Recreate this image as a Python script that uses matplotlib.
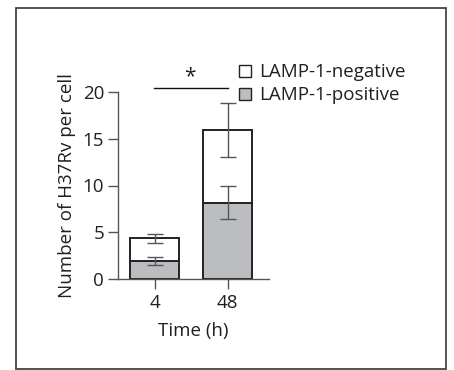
import matplotlib
matplotlib.use("Agg")
import matplotlib.pyplot as plt
from matplotlib.patches import Rectangle

plt.rcParams['font.family'] = ['Open Sans', 'DejaVu Sans']

# data
times = ["4", "48"]
pos_mean = [1.9, 8.15]
pos_err = [0.4, 1.75]
total_mean = [4.35, 15.95]
total_err = [0.45, 2.85]
neg_mean = [t - p for t, p in zip(total_mean, pos_mean)]

TXT = "#231f20"
AX = "#555555"
GREY = "#bcbdc0"
FS = 13.5

fig = plt.figure(figsize=(4.54, 3.70), dpi=100)
# outer frame
fig.patches.append(Rectangle((15.5/454, 1/370), (446-15.5)/454, (362.5-1)/370,
                             transform=fig.transFigure, fill=False,
                             edgecolor="#444444", lw=1.3))

ax = fig.add_axes([118/454, 1-279/370, (269-118)/454, (279-92)/370])
x = [0, 1]
w = 0.67
ax.bar(x, pos_mean, w, color=GREY, edgecolor="#222222", lw=1.4, zorder=2)
ax.bar(x, neg_mean, w, bottom=pos_mean, color="white", edgecolor="#222222", lw=1.4, zorder=2)
ax.errorbar(x, pos_mean, yerr=pos_err, fmt="none", ecolor=AX, elinewidth=1.0,
            capsize=6, capthick=1.0, zorder=3)
ax.errorbar(x, total_mean, yerr=total_err, fmt="none", ecolor=AX, elinewidth=1.0,
            capsize=6, capthick=1.0, zorder=3, clip_on=False)

ax.set_xlim(-0.5, 1.568)
ax.set_ylim(0, 20)
ax.set_yticks([0, 5, 10, 15, 20])
ax.set_xticks(x)
ax.set_xticklabels(times)
for s in ["top", "right"]:
    ax.spines[s].set_visible(False)
for s in ["left", "bottom"]:
    ax.spines[s].set_color(AX)
    ax.spines[s].set_linewidth(1.0)
ax.tick_params(axis="both", colors=AX, labelcolor=TXT, labelsize=FS,
               length=7, width=1.0)
ax.tick_params(axis="x", pad=4)
ax.tick_params(axis="y", pad=3)
ax.set_ylabel("Number of H37Rv per cell", fontsize=FS, color=TXT, labelpad=5)
ax.set_xlabel("Time (h)", fontsize=FS, color=TXT, labelpad=7)

# significance
ax.plot([-0.005, 1.0], [20.4, 20.4], color="#111111", lw=1.0, clip_on=False)
ax.text(0.49, 21.6, "*", ha="center", va="center", fontsize=15, color=TXT)

# legend
ax.add_patch(Rectangle((1.16, 21.6), 0.16, 1.3, transform=ax.transData,
                       facecolor="white", edgecolor="#222222", lw=1.0, clip_on=False))
ax.add_patch(Rectangle((1.16, 19.15), 0.16, 1.3, transform=ax.transData,
                       facecolor=GREY, edgecolor="#222222", lw=1.0, clip_on=False))
ax.text(1.43, 22.15, "LAMP-1-negative", ha="left", va="center", fontsize=FS, color=TXT)
ax.text(1.43, 19.7, "LAMP-1-positive", ha="left", va="center", fontsize=FS, color=TXT)

fig.savefig("out.png", dpi=100)
